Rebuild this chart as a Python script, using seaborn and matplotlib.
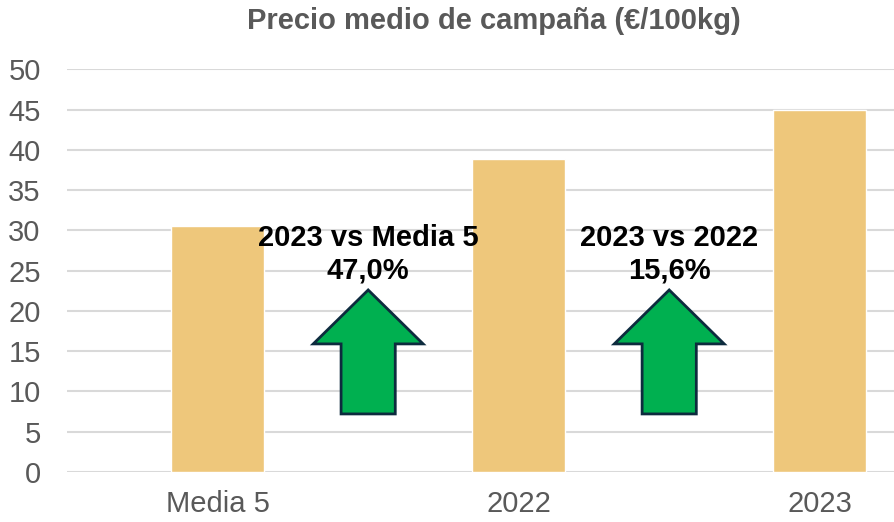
import matplotlib
matplotlib.use("Agg")
import matplotlib.pyplot as plt
import seaborn as sns
import pandas as pd
from matplotlib.patches import FancyArrow

# datos
categorias = ["Media 5", "2022", "2023"]
precios = [30.61, 38.93, 45.0]
comparaciones = ["2023 vs Media 5", "2023 vs 2022"]

df = pd.DataFrame({"categoria": categorias, "precio": precios})

sns.set_theme(style="white")
plt.rcParams["font.family"] = ["Liberation Sans", "DejaVu Sans"]

fig = plt.figure(figsize=(8.95, 5.22), dpi=100)
ax = fig.add_axes([0.075, 0.096, 0.925, 0.771])

sns.barplot(data=df, x="categoria", y="precio", color="#EEC77B", saturation=1,
            width=0.31, ax=ax, zorder=3)

ax.set_ylim(0, 50)
ax.set_xlim(-0.5, 2.25)
ax.set_yticks(range(0, 51, 5))
ax.yaxis.grid(True, color="#D9D9D9", linewidth=1.5, zorder=0)
ax.set_axisbelow(True)
for s in ax.spines.values():
    s.set_visible(False)
ax.tick_params(axis="y", length=0, pad=19, labelsize=21, labelcolor="#595959")
ax.tick_params(axis="x", length=0, pad=13, labelsize=21, labelcolor="#595959")
ax.set_xlabel("")
ax.set_ylabel("")

# flechas y variaciones
ultimo = precios[-1]
for i, (txt, base) in enumerate(zip(comparaciones, precios[:-1])):
    x = i + 0.5
    var = (ultimo / base - 1) * 100
    etiqueta = f"{txt}\n{var:.1f}%".replace(".", ",")
    ax.text(x, 27.0, etiqueta, ha="center", va="center", fontsize=21,
            fontweight="bold", color="black", linespacing=1.2, zorder=5)
    flecha = FancyArrow(x, 7.2, 0, 15.4, width=0.18, head_width=0.365,
                        head_length=6.7, length_includes_head=True,
                        facecolor="#00B050", edgecolor="#0D2B3E",
                        linewidth=2, zorder=4)
    ax.add_patch(flecha)

fig.text(494 / 895, 1 - 21 / 522, "Precio medio de campaña (€/100kg)",
         ha="center", va="center", fontsize=21, fontweight="bold", color="#595959")

fig.savefig("out.png", dpi=100)
